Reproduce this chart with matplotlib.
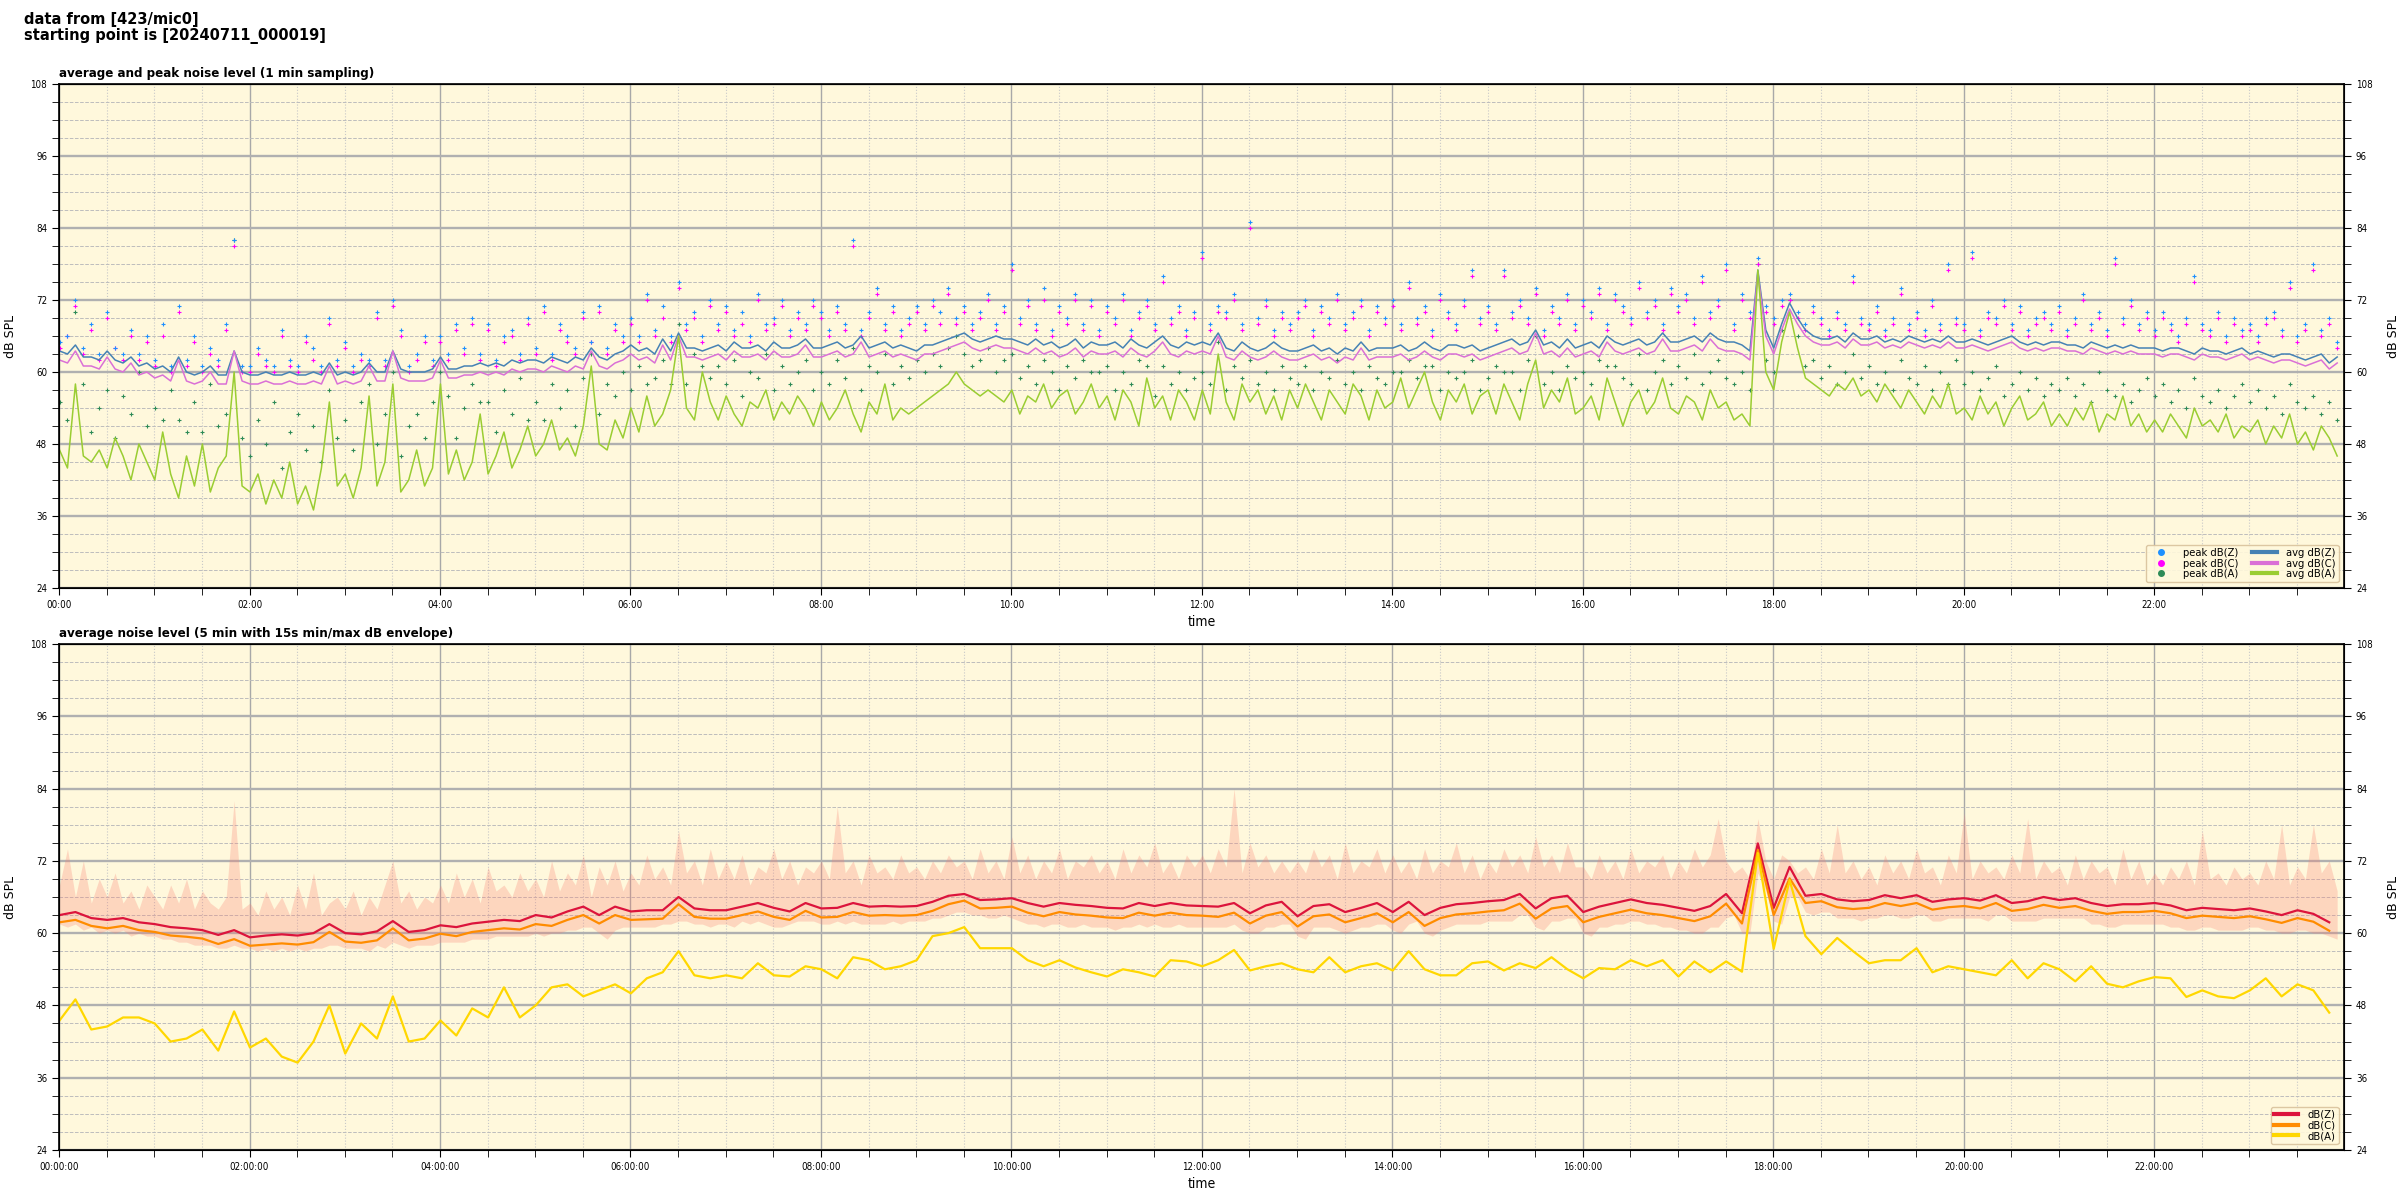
import matplotlib
matplotlib.use('Agg')
import matplotlib.pyplot as plt
import matplotlib.dates as mdates
from matplotlib.lines import Line2D
from matplotlib.ticker import MultipleLocator
import pandas as pd

plt.rcParams['font.family'] = ['DejaVu Sans']
plt.rcParams['font.stretch'] = 'condensed'

# ---- top panel: 5 min samples of the 1 min data (dB SPL) ----
avg_z = [
    63.5, 63, 64.5, 62.5, 62.5, 62, 63.5, 62, 61.5, 62.5, 61, 61.5,
    60.5, 61, 60, 62.5, 60, 59.5, 60, 61, 59.5, 59.5, 63.5, 60,
    59.5, 59.5, 60, 59.5, 59.5, 60, 59.5, 59.5, 60, 59.5, 61.5, 59.5,
    60, 59.5, 60, 61.5, 60, 60, 63.5, 60.5, 60, 60, 60, 60.5,
    62.5, 60.5, 60.5, 61, 61, 61.5, 61, 61.5, 61, 62, 61.5, 62,
    62, 61.5, 62.5, 62, 61.5, 62.5, 62, 64, 62.5, 62, 63, 63.5,
    64.5, 63.5, 64, 63, 65.5, 63.5, 66.5, 64, 64, 63.5, 64, 64.5,
    63.5, 65, 64, 64, 64.5, 63.5, 65, 64, 64, 64.5, 65.5, 64,
    64, 64.5, 65, 64, 64.5, 66, 64, 64.5, 65, 64, 64.5, 64,
    63.5, 64.5, 64.5, 65, 65.5, 66, 66.5, 65.5, 65, 65.5, 66, 65.5,
    65.5, 65, 64.5, 65.5, 64.5, 65, 64, 64.5, 65.5, 64, 65, 64.5,
    64.5, 65, 64, 65.5, 64.5, 64, 65, 66, 64.5, 64, 65, 64.5,
    65, 64.5, 66.5, 64, 63.5, 65, 64, 63.5, 64, 65, 64, 63.5,
    63.5, 64, 64.5, 63.5, 64, 63, 64, 63.5, 65, 63.5, 64, 64,
    64, 64.5, 63.5, 64, 65, 64, 63.5, 64.5, 64.5, 64, 64.5, 63.5,
    64, 64.5, 65, 65.5, 64.5, 65, 67, 64.5, 65, 64, 65.5, 64,
    64.5, 65, 64, 66, 65, 64.5, 65, 65.5, 64.5, 65, 66.5, 65,
    65, 65.5, 66, 65, 66.5, 65.5, 65, 65, 64.5, 63.5, 77, 67,
    64, 68, 71.5, 69, 67, 66, 65.5, 65.5, 66, 65, 66.5, 65.5,
    65.5, 66, 65, 65.5, 65, 66, 65.5, 65, 65.5, 65, 66, 65,
    65, 65.5, 65, 64.5, 65, 65.5, 66, 65, 64.5, 65, 64.5, 65,
    65, 64.5, 64.5, 64, 65, 64.5, 64, 64.5, 64, 64.5, 64, 64,
    64, 63.5, 64, 64, 63.5, 63, 64, 63.5, 63.5, 63, 63.5, 64,
    63, 63.5, 63, 62.5, 63, 63, 62.5, 62, 62.5, 63, 61.5, 62.5,
]
avg_c = [
    62, 61.5, 63.5, 61, 61, 60.5, 62.5, 60.5, 60, 61.5, 59.5, 60,
    59, 59.5, 58.5, 62, 58.5, 58, 58.5, 60, 58, 58, 63.5, 58.5,
    58, 58, 58.5, 58, 58, 58.5, 58, 58, 58.5, 58, 61, 58,
    58.5, 58, 58.5, 61, 58.5, 58.5, 63.5, 59, 58.5, 58.5, 58.5, 59,
    62, 59, 59, 59.5, 59.5, 60, 59.5, 60, 59.5, 60.5, 60, 60.5,
    60.5, 60, 61, 60.5, 60, 61, 60.5, 63.5, 61, 60.5, 61.5, 62,
    63, 62, 62.5, 61.5, 64.5, 62, 66, 62.5, 62.5, 62, 62.5, 63,
    62, 63.5, 62.5, 62.5, 63, 62, 63.5, 62.5, 62.5, 63, 64.5, 62.5,
    62.5, 63, 63.5, 62.5, 63, 65, 62.5, 63, 63.5, 62.5, 63, 62.5,
    62, 63, 63, 63.5, 64, 64.5, 65, 64, 63.5, 64, 64.5, 64,
    64, 63.5, 63, 64, 63, 63.5, 62.5, 63, 64, 62.5, 63.5, 63,
    63, 63.5, 62.5, 64, 63, 62.5, 63.5, 65, 63, 62.5, 63.5, 63,
    63.5, 63, 66, 62.5, 62, 63.5, 62.5, 62, 62.5, 63.5, 62.5, 62,
    62, 62.5, 63, 62, 62.5, 61.5, 62.5, 62, 64, 62, 62.5, 62.5,
    62.5, 63, 62, 62.5, 63.5, 62.5, 62, 63, 63, 62.5, 63, 62,
    62.5, 63, 63.5, 64, 63, 63.5, 66.5, 63, 63.5, 62.5, 64, 62.5,
    63, 63.5, 62.5, 65, 63.5, 63, 63.5, 64, 63, 63.5, 65.5, 63.5,
    63.5, 64, 64.5, 63.5, 65.5, 64, 63.5, 63.5, 63, 62, 76.5, 66,
    63, 67, 70.5, 68, 66, 65, 64.5, 64.5, 65, 64, 65.5, 64.5,
    64.5, 65, 64, 64.5, 64, 65, 64.5, 64, 64.5, 64, 65, 64,
    64, 64.5, 64, 63.5, 64, 64.5, 65, 64, 63.5, 64, 63.5, 64,
    64, 63.5, 63.5, 63, 64, 63.5, 63, 63.5, 63, 63.5, 63, 63,
    63, 62.5, 63, 63, 62.5, 62, 63, 62.5, 62.5, 62, 62.5, 63,
    62, 62.5, 62, 61.5, 62, 62, 61.5, 61, 61.5, 62, 60.5, 61.5,
]
avg_a = [
    47, 44, 58, 46, 45, 47, 44, 49, 46, 42, 48, 45,
    42, 50, 43, 39, 46, 41, 48, 40, 44, 46, 60, 41,
    40, 43, 38, 42, 39, 45, 38, 41, 37, 44, 55, 41,
    43, 39, 44, 56, 41, 45, 58, 40, 42, 47, 41, 44,
    58, 43, 47, 42, 45, 53, 43, 46, 50, 44, 47, 51,
    46, 48, 52, 47, 49, 46, 51, 61, 48, 47, 52, 49,
    54, 50, 56, 51, 53, 57, 66, 54, 52, 60, 55, 52,
    56, 53, 51, 55, 54, 57, 52, 55, 53, 56, 54, 51,
    55, 52, 54, 57, 53, 50, 55, 53, 58, 52, 54, 53,
    54, 55, 56, 57, 58, 60, 58, 57, 56, 57, 56, 55,
    57, 53, 56, 55, 58, 54, 56, 57, 53, 55, 58, 54,
    56, 52, 57, 55, 51, 59, 54, 56, 52, 57, 55, 52,
    57, 53, 63, 55, 52, 58, 55, 57, 53, 56, 52, 57,
    54, 58, 55, 52, 57, 55, 53, 58, 56, 52, 57, 54,
    55, 59, 54, 57, 60, 55, 52, 57, 55, 58, 53, 56,
    57, 53, 58, 55, 52, 58, 62, 54, 57, 55, 59, 53,
    54, 56, 52, 59, 55, 51, 55, 57, 53, 55, 59, 54,
    53, 56, 55, 52, 57, 54, 55, 52, 53, 51, 77, 60,
    57, 65, 70, 64, 59, 58, 57, 56, 58, 57, 59, 56,
    57, 55, 58, 56, 54, 57, 55, 53, 56, 54, 58, 53,
    54, 52, 56, 53, 55, 51, 54, 56, 52, 53, 55, 51,
    53, 51, 54, 52, 55, 50, 53, 52, 56, 51, 53, 50,
    52, 50, 53, 51, 49, 54, 51, 52, 50, 53, 49, 51,
    50, 52, 48, 51, 49, 53, 48, 50, 47, 51, 49, 46,
]
peak_z = [
    65, 66, 72, 64, 68, 63, 70, 64, 63, 67, 63, 66,
    62, 68, 61, 71, 62, 66, 61, 64, 62, 68, 82, 61,
    61, 64, 62, 61, 67, 62, 61, 66, 64, 61, 69, 62,
    65, 61, 63, 62, 70, 62, 72, 67, 61, 63, 66, 62,
    66, 63, 68, 64, 69, 63, 68, 62, 66, 67, 63, 69,
    64, 71, 63, 68, 66, 64, 70, 65, 71, 64, 68, 66,
    69, 66, 73, 67, 71, 66, 75, 68, 70, 66, 72, 68,
    71, 67, 70, 66, 73, 68, 69, 72, 67, 70, 68, 72,
    70, 67, 71, 68, 82, 67, 70, 74, 68, 71, 67, 69,
    71, 68, 72, 70, 74, 69, 71, 68, 70, 73, 68, 71,
    78, 69, 72, 68, 74, 67, 71, 69, 73, 68, 72, 67,
    71, 69, 73, 67, 70, 72, 68, 76, 69, 71, 67, 70,
    80, 68, 71, 70, 73, 68, 85, 69, 72, 67, 70, 68,
    70, 72, 67, 71, 69, 73, 68, 70, 72, 67, 71, 69,
    72, 68, 75, 69, 71, 67, 73, 70, 68, 72, 77, 69,
    71, 68, 77, 70, 72, 69, 74, 67, 71, 69, 73, 68,
    72, 70, 74, 68, 73, 71, 69, 75, 70, 72, 68, 74,
    71, 73, 69, 76, 70, 72, 78, 68, 73, 70, 79, 71,
    69, 72, 73, 70, 68, 71, 69, 67, 70, 68, 76, 69,
    68, 71, 67, 69, 74, 68, 70, 67, 72, 68, 78, 69,
    68, 80, 67, 70, 69, 72, 68, 71, 67, 69, 70, 68,
    71, 67, 69, 73, 68, 70, 67, 79, 69, 72, 68, 70,
    67, 70, 68, 66, 69, 76, 68, 67, 70, 66, 69, 67,
    68, 66, 69, 70, 67, 75, 66, 68, 78, 67, 69, 65,
]
peak_c = [
    64, 66, 71, 63, 67, 62, 69, 64, 62, 66, 62, 65,
    61, 66, 60, 70, 61, 65, 60, 63, 61, 67, 81, 60,
    60, 63, 61, 60, 66, 61, 60, 65, 62, 60, 68, 61,
    64, 60, 62, 61, 69, 61, 71, 66, 60, 62, 65, 61,
    65, 62, 67, 63, 68, 62, 67, 61, 65, 66, 62, 68,
    63, 70, 62, 67, 65, 63, 69, 65, 70, 63, 67, 65,
    68, 65, 72, 66, 69, 65, 74, 67, 69, 65, 71, 67,
    70, 66, 68, 65, 72, 67, 68, 71, 66, 69, 67, 71,
    69, 66, 70, 67, 81, 66, 69, 73, 67, 70, 66, 68,
    70, 67, 71, 68, 73, 68, 70, 67, 69, 72, 67, 70,
    77, 68, 71, 67, 72, 66, 70, 68, 72, 67, 71, 66,
    70, 68, 72, 66, 69, 71, 67, 75, 68, 70, 66, 69,
    79, 67, 70, 69, 72, 67, 84, 68, 71, 66, 69, 67,
    69, 71, 66, 70, 68, 72, 67, 69, 71, 66, 70, 68,
    71, 67, 74, 68, 70, 66, 72, 69, 67, 71, 76, 68,
    70, 67, 76, 69, 71, 68, 73, 66, 70, 68, 72, 67,
    71, 69, 73, 67, 72, 70, 68, 74, 69, 71, 67, 73,
    70, 72, 68, 75, 69, 71, 77, 67, 72, 69, 78, 70,
    68, 71, 72, 69, 67, 70, 68, 66, 69, 67, 75, 68,
    67, 70, 66, 68, 73, 67, 69, 66, 71, 67, 77, 68,
    67, 79, 66, 69, 68, 71, 67, 70, 66, 68, 69, 67,
    70, 66, 68, 72, 67, 69, 66, 78, 68, 71, 67, 69,
    66, 69, 67, 65, 68, 75, 67, 66, 69, 65, 68, 66,
    67, 65, 68, 69, 66, 74, 65, 67, 77, 66, 68, 64,
]
peak_a = [
    55, 52, 70, 58, 50, 54, 57, 49, 56, 53, 60, 51,
    54, 52, 57, 52, 50, 55, 50, 58, 51, 53, 82, 49,
    46, 52, 48, 55, 44, 50, 53, 47, 51, 45, 57, 49,
    52, 47, 55, 58, 48, 53, 60, 46, 51, 53, 49, 55,
    60, 56, 49, 54, 58, 55, 55, 50, 57, 53, 59, 52,
    55, 52, 58, 54, 57, 51, 59, 63, 53, 58, 56, 60,
    57, 61, 58, 59, 62, 58, 68, 58, 63, 61, 59, 61,
    58, 62, 56, 60, 59, 63, 57, 61, 58, 60, 62, 57,
    60, 58, 62, 59, 64, 57, 61, 60, 63, 58, 61, 59,
    62, 60, 63, 61, 64, 66, 63, 61, 62, 64, 60, 62,
    63, 59, 61, 58, 62, 60, 57, 61, 59, 62, 60, 60,
    61, 57, 60, 58, 62, 61, 56, 61, 58, 60, 57, 59,
    60, 58, 65, 57, 61, 59, 62, 58, 60, 57, 61, 59,
    58, 61, 57, 60, 59, 62, 58, 60, 57, 61, 59, 58,
    60, 60, 62, 59, 61, 61, 57, 60, 59, 60, 62, 57,
    59, 61, 60, 60, 57, 62, 66, 58, 60, 57, 61, 59,
    60, 58, 62, 61, 61, 59, 58, 63, 57, 60, 62, 58,
    61, 59, 63, 58, 60, 62, 59, 58, 60, 57, 78, 62,
    60, 67, 72, 66, 61, 62, 59, 61, 58, 60, 63, 59,
    61, 58, 60, 57, 62, 59, 58, 61, 57, 60, 58, 62,
    58, 60, 57, 59, 61, 56, 58, 60, 57, 59, 56, 58,
    57, 59, 56, 58, 55, 60, 57, 56, 58, 55, 57, 59,
    56, 58, 55, 57, 54, 59, 56, 55, 57, 54, 56, 58,
    55, 57, 54, 56, 53, 58, 55, 54, 56, 53, 55, 52,
]

# ---- bottom panel: 5 min averages (every 2nd shown) + 15 s envelope ----
bot_z = [
    63, 63.5, 62.5, 62.2, 62.5, 61.8, 61.5, 61, 60.8, 60.5, 59.7, 60.5,
    59.3, 59.6, 59.8, 59.6, 60, 61.5, 60, 59.8, 60.3, 62, 60.2, 60.5,
    61.3, 61, 61.6, 61.9, 62.2, 62, 63, 62.6, 63.6, 64.4, 63, 64.4,
    63.6, 63.8, 63.8, 66, 64.1, 63.8, 63.8, 64.4, 65, 64.2, 63.6, 65,
    64.1, 64.2, 65, 64.4, 64.5, 64.4, 64.5, 65.2, 66.2, 66.5, 65.5, 65.6,
    65.8, 65, 64.4, 65, 64.7, 64.5, 64.2, 64.1, 65, 64.5, 65, 64.6,
    64.5, 64.4, 65, 63.3, 64.6, 65.2, 62.8, 64.5, 64.8, 63.5, 64.2, 65,
    63.5, 65.2, 63, 64.2, 64.8, 65, 65.3, 65.5, 66.5, 64.1, 65.8, 66.2,
    63.5, 64.4, 65, 65.6, 65, 64.7, 64.2, 63.7, 64.5, 66.5, 63.3, 74.9,
    64.2, 71, 66.2, 66.5, 65.6, 65.3, 65.5, 66.3, 65.8, 66.3, 65.2, 65.6,
    65.8, 65.4, 66.3, 65, 65.3, 66, 65.5, 65.8, 65, 64.5, 64.8, 64.8,
    65, 64.6, 63.8, 64.2, 64, 63.8, 64.1, 63.6, 63, 63.8, 63.2, 61.8,
]
bot_c = [
    61.8, 62.2, 61.2, 60.8, 61.2, 60.5, 60.2, 59.6, 59.4, 59.1, 58.2, 59,
    57.9, 58.1, 58.3, 58.1, 58.5, 60.2, 58.6, 58.4, 58.8, 60.8, 58.8, 59.1,
    59.9, 59.5, 60.2, 60.5, 60.8, 60.6, 61.5, 61.2, 62.2, 63, 61.6, 63,
    62.2, 62.3, 62.4, 64.8, 62.7, 62.4, 62.4, 63, 63.6, 62.7, 62.2, 63.7,
    62.6, 62.7, 63.5, 62.9, 63, 62.9, 63, 63.7, 64.8, 65.4, 64.1, 64.2,
    64.4, 63.4, 62.8, 63.5, 63.1, 62.9, 62.6, 62.5, 63.4, 62.9, 63.4, 63,
    62.9, 62.7, 63.4, 61.6, 62.9, 63.5, 61.1, 62.8, 63.1, 61.8, 62.5, 63.3,
    61.8, 63.5, 61.2, 62.5, 63.1, 63.3, 63.6, 63.8, 64.9, 62.4, 64.1, 64.5,
    61.8, 62.7, 63.3, 63.9, 63.3, 63, 62.5, 62, 62.8, 64.9, 61.6, 73.8,
    63, 69.1, 65, 65.3, 64.3, 64, 64.2, 65, 64.5, 65, 63.9, 64.3,
    64.5, 64.1, 65, 63.7, 64, 64.7, 64.2, 64.5, 63.7, 63.2, 63.5, 63.5,
    63.7, 63.3, 62.5, 62.9, 62.7, 62.5, 62.8, 62.3, 61.7, 62.5, 61.9, 60.4,
]
bot_a = [
    45.5, 49, 44, 44.5, 46, 46, 45, 42, 42.5, 44, 40.5, 47,
    41, 42.5, 39.5, 38.5, 42, 48, 40, 45, 42.5, 49.5, 42, 42.5,
    45.5, 43, 47.5, 46, 51, 46, 48, 51, 51.5, 49.5, 50.5, 51.5,
    50, 52.5, 53.5, 57, 53, 52.5, 53, 52.5, 55, 53, 52.8, 54.5,
    54, 52.5, 56, 55.5, 54, 54.5, 55.5, 59.5, 60, 61, 57.5, 57.5,
    57.5, 55.5, 54.5, 55.5, 54.3, 53.5, 52.8, 54, 53.5, 52.8, 55.5, 55.3,
    54.5, 55.5, 57.2, 53.8, 54.5, 55, 54, 53.5, 56, 53.5, 54.5, 55,
    53.8, 57, 54, 53, 53, 55, 55.3, 53.8, 55, 54.2, 56, 54,
    52.5, 54.2, 54, 55.5, 54.5, 55.5, 52.8, 55.3, 53.5, 55.3, 53.6, 73.3,
    57.4, 68.8, 59.5, 56.5, 59.2, 57, 55, 55.5, 55.5, 57.5, 53.5, 54.5,
    54, 53.5, 53, 55.5, 52.5, 55, 54, 52, 54.5, 51.6, 51, 52,
    52.7, 52.5, 49.4, 50.5, 49.5, 49.2, 50.5, 52.5, 49.5, 51.5, 50.5, 46.8,
]
env_hi = [
    68, 74, 66, 72, 65, 69, 66, 70, 65, 67, 64, 68,
    66, 64, 68, 65, 69, 64, 67, 65, 64, 66, 82, 64,
    65, 63, 67, 64, 66, 63, 68, 64, 70, 63, 65, 66,
    64, 67, 63, 66, 64, 68, 72, 65, 67, 64, 66, 65,
    68, 65, 70, 66, 69, 65, 71, 67, 68, 66, 70, 67,
    69, 66, 72, 67, 70, 68, 73, 66, 71, 68, 72, 67,
    70, 68, 73, 69, 71, 68, 77, 70, 72, 68, 74, 69,
    72, 69, 73, 68, 71, 70, 74, 69, 72, 68, 71, 70,
    72, 69, 81, 70, 72, 68, 73, 70, 71, 69, 73, 70,
    71, 69, 72, 70, 73, 71, 72, 69, 74, 70, 72, 69,
    76, 70, 73, 69, 72, 70, 74, 69, 72, 71, 73, 70,
    72, 69, 74, 70, 73, 71, 75, 70, 72, 69, 73, 71,
    73, 70, 74, 71, 84, 70, 75, 71, 73, 70, 72, 70,
    72, 70, 74, 71, 73, 69, 75, 70, 72, 71, 74, 70,
    73, 70, 72, 69, 74, 70, 72, 71, 75, 70, 73, 69,
    72, 70, 74, 71, 73, 70, 76, 71, 73, 70, 75, 71,
    71, 69, 73, 70, 72, 69, 74, 70, 72, 71, 73, 69,
    72, 70, 74, 71, 73, 79, 72, 70, 71, 69, 79, 72,
    69, 73, 72, 70, 71, 69, 74, 70, 78, 70, 72, 69,
    71, 68, 73, 70, 72, 69, 74, 70, 71, 68, 73, 70,
    80, 69, 72, 70, 71, 69, 73, 70, 79, 69, 72, 70,
    71, 68, 73, 69, 72, 70, 71, 68, 74, 69, 72, 68,
    70, 68, 71, 69, 72, 68, 77, 69, 70, 68, 71, 69,
    70, 68, 72, 69, 78, 68, 71, 69, 78, 70, 72, 67,
]
env_lo = [
    61.5, 61, 61.5, 60.5, 61, 60, 60.5, 60, 60.5, 59.5, 60, 59.5,
    59.5, 59, 59, 58.5, 58.5, 58, 58, 58, 57.5, 57.5, 58, 57.5,
    57.5, 57, 57.5, 57, 57.5, 57, 57.5, 57, 57.5, 57.5, 58, 58,
    57.5, 57.5, 57.5, 57, 58, 57.5, 58.5, 58, 57.5, 58, 58, 58,
    58.5, 58.5, 58.5, 58.5, 59, 59, 59, 59.5, 59.5, 59.5, 59.5, 59.5,
    60, 59.5, 60, 60, 60.5, 60.5, 61, 61, 60, 59, 60.5, 61,
    61, 61, 61, 61, 61.5, 61.5, 62, 62, 61.5, 61.5, 61, 61.5,
    61.5, 61, 62, 61.5, 62, 61.5, 61, 61, 61.5, 62, 62, 62,
    61.5, 61.5, 62, 61.5, 62, 61.5, 61.5, 61.5, 61.5, 62, 61.5, 62,
    62, 62, 62.5, 62.5, 63, 63.5, 63.5, 63, 63, 62.5, 62.5, 63,
    62.5, 62, 61.5, 61.5, 61, 61.5, 61.5, 61, 61, 61.5, 61, 61,
    61, 60.5, 61, 61, 61.5, 61, 61.5, 61, 61, 61.5, 61, 61,
    61, 61, 61, 61, 61.5, 60.5, 60, 60, 61, 61, 61.5, 61.5,
    59.5, 59, 61, 61, 61, 60.5, 60, 60.5, 61, 61, 61.5, 61.5,
    60.5, 60, 61.5, 62, 60, 59.5, 60.5, 61, 61.5, 61.5, 61.5, 61.5,
    62, 62, 62, 62, 63, 63, 61, 60.5, 62, 62, 62.5, 62.5,
    60, 59.5, 61, 61, 61.5, 61.5, 62, 62, 61.5, 61.5, 61, 61,
    60.5, 60.5, 60, 60, 61, 61, 62.5, 63, 60, 60, 70, 67,
    62, 61.5, 66, 66, 63.5, 63, 63.5, 63.5, 62.5, 62.5, 62.5, 62,
    62.5, 62.5, 63, 63, 62.5, 62.5, 63, 63, 62, 62, 62.5, 62.5,
    62.5, 62.5, 62.5, 62, 63, 63, 62, 62, 62, 62, 62.5, 62.5,
    62.5, 62.5, 62.5, 62.5, 61.5, 61.5, 61, 61, 61.5, 61.5, 61.5, 61.5,
    61.5, 61.5, 61, 61, 60.5, 60.5, 61, 61, 60.5, 60.5, 60.5, 60.5,
    61, 61, 60.5, 60.5, 60, 60, 60.5, 60.5, 60, 60, 59.5, 59,
]

start = '2024-07-11 00:00:19'
t_top = pd.date_range(start, periods=len(avg_z), freq='5min')
t_bot = pd.date_range(start, periods=len(bot_z), freq='10min')
t_env = pd.date_range(start, periods=len(env_hi), freq='5min')

BG = 'cornsilk'
FRAME = '#d9c29c'


def style_axes(ax, fmt, title):
    ax.set_facecolor(BG)
    ax.set_xlim(pd.Timestamp('2024-07-11 00:00'), pd.Timestamp('2024-07-11 23:59:40'))
    ax.set_ylim(24, 108)
    ax.yaxis.set_major_locator(MultipleLocator(12))
    ax.yaxis.set_minor_locator(MultipleLocator(3))
    ax.xaxis.set_major_locator(mdates.HourLocator(interval=2))
    ax.xaxis.set_minor_locator(mdates.MinuteLocator(byminute=[0, 30]))
    ax.xaxis.set_major_formatter(mdates.DateFormatter(fmt))
    ax.grid(which='major', axis='y', color='#b0b0b0', lw=1.7)
    ax.grid(which='major', axis='x', color='#a8a8a8', lw=1.0)
    ax.grid(which='minor', axis='y', color='#bdbdbd', ls='--', lw=0.7)
    ax.grid(which='minor', axis='x', color='#c8c8c8', ls=':', lw=0.8)
    ax.set_axisbelow(True)
    ax.tick_params(which='both', labelsize=7, length=5)
    ax.set_ylabel('dB SPL', fontsize=9, fontstretch='normal', labelpad=10)
    ax.set_xlabel('time', fontsize=10)
    ax.set_title(title, loc='left', fontsize=9.5, fontweight='bold', pad=5)
    for sp in ax.spines.values():
        sp.set_linewidth(1.2)

    right = ax.twinx()
    right.set_ylim(24, 108)
    right.yaxis.set_major_locator(MultipleLocator(12))
    right.yaxis.set_minor_locator(MultipleLocator(3))
    right.tick_params(which='both', labelsize=7, length=5)
    right.set_ylabel('dB SPL', fontsize=9, fontstretch='normal', labelpad=10)
    return right


fig = plt.figure(figsize=(24, 12), dpi=100)
fig.text(0.01, 0.99, 'data from [423/mic0]\nstarting point is [20240711_000019]',
         ha='left', va='top', fontsize=10.5, fontweight='bold',
         fontstretch='normal', linespacing=1.05)

# ---- top panel ----
ax1 = fig.add_axes([0.0246, 0.51, 0.9521, 0.42])
mk = dict(ls='', marker='+', ms=3.5, mew=0.8, zorder=2)
ax1.plot(t_top, peak_a, color='seagreen', **mk)
ax1.plot(t_top, peak_c, color='magenta', **mk)
ax1.plot(t_top, peak_z, color='dodgerblue', **mk)
ax1.plot(t_top, avg_z, color='steelblue', lw=1.1, zorder=3)
ax1.plot(t_top, avg_c, color='orchid', lw=1.1, zorder=3)
ax1.plot(t_top, avg_a, color='yellowgreen', lw=1.1, zorder=3)
style_axes(ax1, '%H:%M', 'average and peak noise level (1 min sampling)')

handles = [
    Line2D([], [], ls='', marker='o', ms=4, color='dodgerblue'),
    Line2D([], [], ls='', marker='o', ms=4, color='magenta'),
    Line2D([], [], ls='', marker='o', ms=4, color='seagreen'),
    Line2D([], [], lw=3, color='steelblue'),
    Line2D([], [], lw=3, color='orchid'),
    Line2D([], [], lw=3, color='yellowgreen'),
]
labels = ['peak dB(Z)', 'peak dB(C)', 'peak dB(A)', 'avg dB(Z)', 'avg dB(C)', 'avg dB(A)']
ax1.legend(handles, labels, loc='lower right', ncol=2, fontsize=8,
           facecolor=BG, edgecolor=FRAME, framealpha=0.9,
           handlelength=2.2, labelspacing=0.05, columnspacing=1.3,
           borderpad=0.3, fancybox=True)

# ---- bottom panel ----
ax2 = fig.add_axes([0.0246, 0.0417, 0.9521, 0.4216])
ax2.fill_between(t_env, env_lo, env_hi, color='salmon', alpha=0.28, lw=0, zorder=2)
ax2.plot(t_bot, bot_z, color='crimson', lw=1.6, zorder=3)
ax2.plot(t_bot, bot_c, color='darkorange', lw=1.6, zorder=3)
ax2.plot(t_bot, bot_a, color='gold', lw=1.6, zorder=3)
style_axes(ax2, '%H:%M:%S', 'average noise level (5 min with 15s min/max dB envelope)')

handles2 = [Line2D([], [], lw=3, color=c) for c in ('crimson', 'darkorange', 'gold')]
ax2.legend(handles2, ['dB(Z)', 'dB(C)', 'dB(A)'], loc='lower right', fontsize=8,
           facecolor=BG, edgecolor=FRAME, framealpha=0.9, handlelength=2.2,
           labelspacing=0.05, borderpad=0.3, fancybox=True)

fig.savefig('out.png', dpi=100)
